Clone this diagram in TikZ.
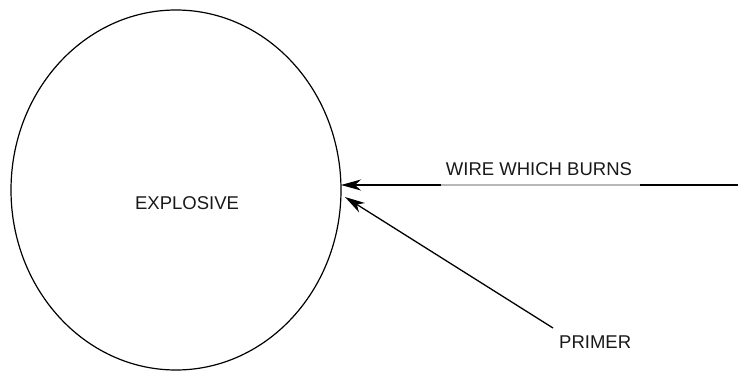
\documentclass[tikz,border=0pt]{standalone}
\usepackage{fontspec}
\setmainfont{Liberation Sans}
\usetikzlibrary{shapes.geometric,arrows.meta}
\begin{document}
\begin{tikzpicture}[x=1pt,y=-1pt,
  lbl/.style={font=\fontsize{18.5}{20}\selectfont, inner sep=0pt, text=black!90},
  conn/.style={line width=1.3pt, -{Stealth[length=20pt,width=11pt,inset=6pt]}}]
\useasboundingbox (0,0) rectangle (738,372);
\node[draw, line width=1.2pt, ellipse, minimum width=330pt, minimum height=360pt, inner sep=0pt] (explosive) at (176,190) {};
\node[lbl] (exptext) at (187,203) {EXPLOSIVE};
\coordinate (wireend) at (738,185);
\coordinate (wiretip) at (341,185);
\coordinate (g1) at (441,185);
\coordinate (g2) at (640,185);
\node[lbl] (wirelbl) at (539,169) {WIRE WHICH BURNS};
\coordinate (primerstart) at (553,328);
\coordinate (primertip) at (345,197);
\node[lbl, anchor=west] (primerlbl) at (559,342) {PRIMER};
\draw[conn] (wireend) -- (wiretip);
\draw[line width=1.3pt, draw=black!28] (g1) -- (g2);
\draw[conn] (primerstart) -- (primertip);
\end{tikzpicture}
\end{document}
